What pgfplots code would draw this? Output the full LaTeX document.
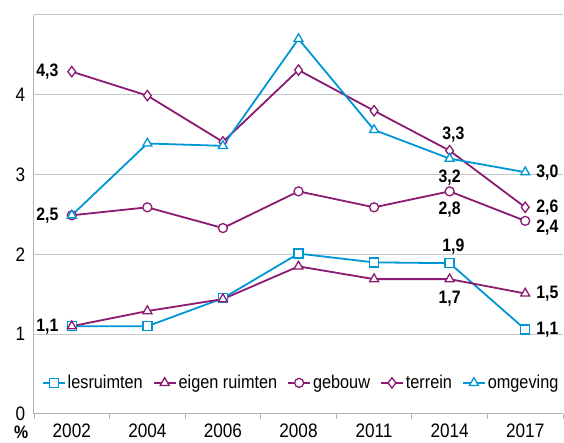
\documentclass[border=0pt]{standalone}
\usepackage{fontspec}
\setmainfont[FakeStretch=0.88]{Liberation Sans}
\usepackage{pgfplots}
\pgfplotsset{compat=1.18}
\usetikzlibrary{calc}
\definecolor{cblue}{HTML}{0096D6}
\definecolor{cpurp}{HTML}{8B1A73}
\begin{document}
\begin{tikzpicture}
\begin{axis}[
  scale only axis,
  width=529pt, height=399pt,
  xmin=-0.5, xmax=6.5, ymin=0, ymax=5,
  xtick={0,...,6},
  xticklabels={2002,2004,2006,2008,2011,2014,2017},
  minor xtick={-0.5,0.5,...,6.5},
  ytick={0,1,2,3,4,5},
  yticklabels={0,1,2,3,4,{}},
  major x tick style={draw=none},
  minor x tick style={draw=gray!60, line width=0.8pt},
  minor tick length=5pt,
  xtick pos=bottom, ytick pos=left,
  tick align=outside,
  major y tick style={draw=none},
  ymajorgrids, grid style={gray!45, line width=1pt},
  axis x line*=bottom, axis y line*=left,
  axis line style={gray!60, line width=1pt, -},
  /pgf/number format/assume math mode=true,
  tick label style={font=\fontsize{19.5}{22}\selectfont},
  yticklabel style={xshift=-1pt},
  xticklabel style={yshift=-2pt},
  legend style={draw=none, fill=none, at={(0.505,0.078)}, anchor=center,
    font=\fontsize{18.5}{21}\selectfont, legend columns=-1,
    /tikz/every even column/.append style={column sep=8pt}},
  legend image code/.code={
    \draw[mark repeat=2,mark phase=2] plot coordinates {(0pt,0pt)(11pt,0pt)(22pt,0pt)};},
  every axis plot/.append style={line width=1.8pt, mark options={solid, fill=white, line width=1.3pt}},
  clip=false,
]
\addplot[cblue, mark=square*, mark size=4.5pt] coordinates {(0,1.1)(1,1.1)(2,1.45)(3,2.01)(4,1.9)(5,1.89)(6,1.06)};
\addlegendentry{lesruimten}
\addplot[cpurp, mark=triangle*, mark size=5.2pt] coordinates {(0,1.1)(1,1.29)(2,1.44)(3,1.85)(4,1.69)(5,1.69)(6,1.51)};
\addlegendentry{eigen ruimten}
\addplot[cpurp, mark=*, mark size=4.5pt] coordinates {(0,2.49)(1,2.59)(2,2.33)(3,2.79)(4,2.59)(5,2.79)(6,2.42)};
\addlegendentry{gebouw}
\addplot[cpurp, mark=diamond*, mark size=5.2pt] coordinates {(0,4.29)(1,3.99)(2,3.41)(3,4.31)(4,3.8)(5,3.3)(6,2.59)};
\addlegendentry{terrein}
\addplot[cblue, mark=triangle*, mark size=5.2pt] coordinates {(0,2.49)(1,3.39)(2,3.36)(3,4.7)(4,3.56)(5,3.2)(6,3.03)};
\addlegendentry{omgeving}
\begin{scope}[every node/.style={font=\fontsize{18}{21}\selectfont\bfseries}]
\node[anchor=east] at (axis cs:-0.13,4.29) {4,3};
\node[anchor=east] at (axis cs:-0.13,2.49) {2,5};
\node[anchor=east] at (axis cs:-0.13,1.1) {1,1};
\node[anchor=south] at (axis cs:5.05,3.36) {3,3};
\node[anchor=north] at (axis cs:5,3.1) {3,2};
\node[anchor=north] at (axis cs:5,2.7) {2,8};
\node[anchor=south] at (axis cs:5.05,1.96) {1,9};
\node[anchor=north] at (axis cs:5,1.59) {1,7};
\node[anchor=west] at (axis cs:6.1,3.03) {3,0};
\node[anchor=west] at (axis cs:6.1,2.59) {2,6};
\node[anchor=west] at (axis cs:6.1,2.33) {2,4};
\node[anchor=west] at (axis cs:6.1,1.51) {1,5};
\node[anchor=west] at (axis cs:6.1,1.06) {1,1};
\end{scope}
\node[font=\fontsize{18}{21}\selectfont\bfseries] at (axis cs:-0.67,-0.235) {\%};
\end{axis}
\pgfresetboundingbox
\path ($(current axis.south west)+(-34pt,-29pt)$) rectangle ($(current axis.north east)+(1pt,15pt)$);
\end{tikzpicture}
\end{document}
